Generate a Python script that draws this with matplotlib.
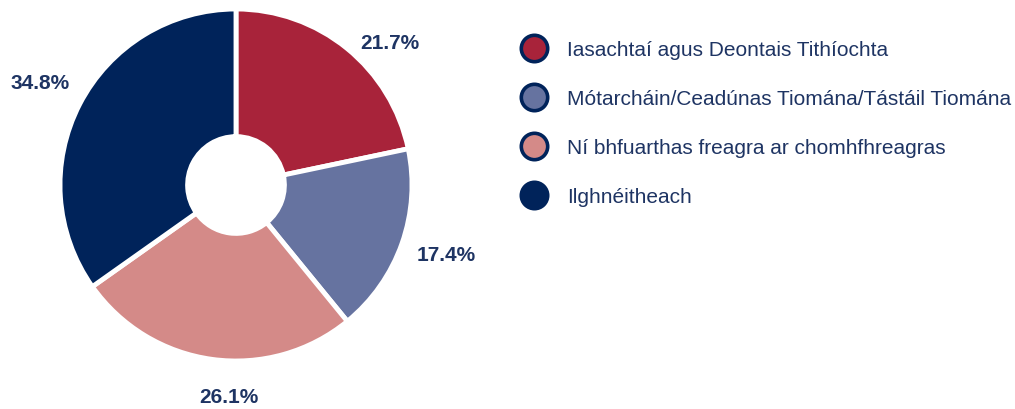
import matplotlib
matplotlib.use("Agg")
import matplotlib.pyplot as plt
from matplotlib.lines import Line2D
import numpy as np

categories = ["Iasachtaí agus Deontais Tithíochta",
              "Mótarcháin/Ceadúnas Tiomána/Tástáil Tiomána",
              "Ní bhfuarthas freagra ar chomhfhreagras",
              "Ilghnéitheach"]
values = [21.7, 17.4, 26.1, 34.8]
colors = ["#A8233A", "#6673A0", "#D48A88", "#00235A"]
# label placement (angle offset in degrees, radial distance) relative to slice middle
label_shift = [(-8.1, 1.193), (1.2, 1.256), (5.8, 1.205), (-0.3, 1.258)]
navy = "#00235A"
textc = "#1E3463"

plt.rcParams['font.family'] = ['Liberation Sans', 'DejaVu Sans']

fig = plt.figure(figsize=(10.15, 4.10), dpi=100)
ax = fig.add_axes([60/1015, 48/410, 352/1015, 352/410])
wedges, texts = ax.pie(values, colors=colors, startangle=90, counterclock=False,
                       radius=1.0,
                       wedgeprops=dict(width=0.725, edgecolor="white", linewidth=3.5))
for w, v, (da, r) in zip(wedges, values, label_shift):
    mid = np.deg2rad((w.theta1 + w.theta2) / 2 + da)
    ax.text(r * np.cos(mid), r * np.sin(mid), f"{v:.1f}%", ha="center", va="center",
            color=textc, fontsize=15, fontweight="bold", clip_on=False)
ax.set_xlim(-1, 1)
ax.set_ylim(-1, 1)
ax.set_aspect("equal")
ax.axis("off")

handles = [Line2D([], [], linestyle="none", marker="o", markersize=19,
                  markerfacecolor=c, markeredgecolor=navy, markeredgewidth=2.6)
           for c in colors]
leg = fig.legend(handles, categories, loc="upper left", bbox_to_anchor=(513/1015, 1 - 33/410),
                 frameon=False, fontsize=15, labelspacing=1.435, handletextpad=1.0,
                 handlelength=1.2, borderaxespad=0)
for t in leg.get_texts():
    t.set_color(textc)

fig.savefig("out.png", dpi=100)
